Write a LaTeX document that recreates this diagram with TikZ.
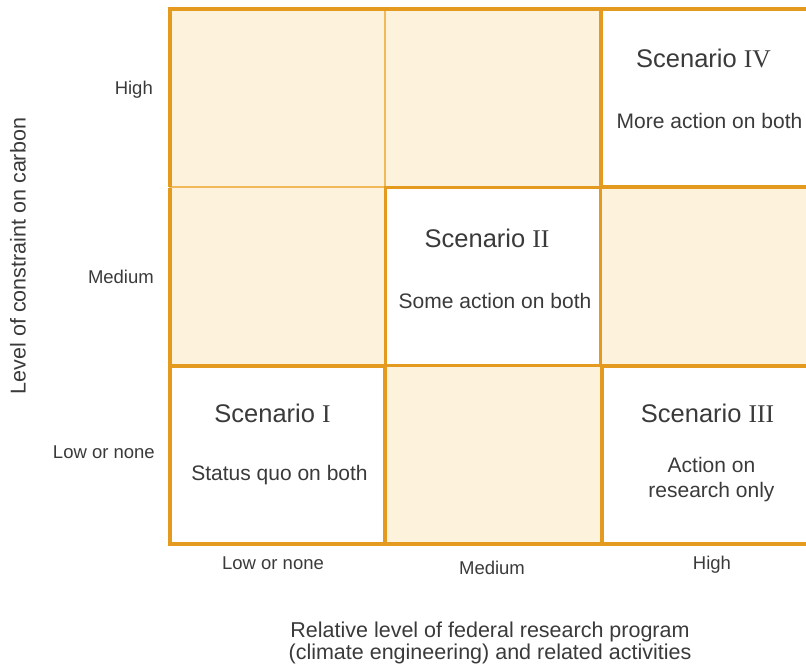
\documentclass[tikz,border=0pt]{standalone}
\usepackage{fontspec}
\setmainfont{Liberation Sans}
\newfontfamily\numfont{Liberation Serif}

\definecolor{frame}{HTML}{E39A1F}
\definecolor{thinframe}{HTML}{F2B95A}
\definecolor{cream}{HTML}{FDF2DC}
\definecolor{ink}{HTML}{3A3A3A}

\tikzstyle{cell} = [draw=thinframe, fill=cream, line width=1.5pt, minimum width=215pt, minimum height=178pt, inner sep=0, outer sep=0]
\tikzstyle{scen} = [cell, draw=frame, fill=white, line width=3.2pt]
\tikzstyle{scentitle} = [font=\fontsize{25.5}{28}\selectfont, text=ink, inner sep=0]
\tikzstyle{scentext} = [font=\fontsize{21}{25}\selectfont, text=ink, align=center, inner sep=0]
\tikzstyle{tick} = [font=\fontsize{18.5}{22}\selectfont, text=ink, inner sep=0]
\tikzstyle{axis} = [font=\fontsize{21.5}{22}\selectfont, text=ink, align=center, inner sep=0]

\begin{document}
\begin{tikzpicture}[x=1pt,y=-1pt]
  \useasboundingbox (0,0) rectangle (806,667);
  \clip (0,0) rectangle (806,667);

%Cells
	\node[cell] (c11) at (277.5,98) {};
	\node[cell] (c12) at (493,98) {};
	\node[cell] (c21) at (277.5,276.5) {};
	\node[cell] (c23) at (708.5,276.5) {};
	\node[cell] (c32) at (493,455) {};

	\draw[frame,line width=3.2pt] (c11.south west) -- (c11.north west) -- (c12.north east);
	\draw[frame,line width=3.2pt] (c21.north west) -- (c21.south west);
	\draw[frame,line width=3.2pt] (c32.south west) -- (c32.south east);

%Scenarios
	\node[scen] (s4) at (708.5,98) {};
	\node[scen] (s2) at (493,276.5) {};
	\node[scen] (s1) at (277.5,455) {};
	\node[scen] (s3) at (709.5,455) {};

	\node[scentitle] (t4) at ([xshift=-5pt,yshift=-49pt]s4.north) {Scenario {\numfont IV}};
	\node[scentext]  (d4) at ([xshift=1pt,yshift=-112pt]s4.north) {More action on both};

	\node[scentitle] (t2) at ([xshift=-6pt,yshift=-51pt]s2.north) {Scenario {\numfont II}};
	\node[scentext]  (d2) at ([xshift=2pt,yshift=-113pt]s2.north) {Some action on both};

	\node[scentitle] (t1) at ([xshift=-5pt,yshift=-47pt]s1.north) {Scenario {\numfont I}};
	\node[scentext]  (d1) at ([xshift=2pt,yshift=-109pt]s1.north) {Status quo on both};

	\node[scentitle] (t3) at ([xshift=-2pt,yshift=-47pt]s3.north) {Scenario {\numfont III}};
	\node[scentext]  (d3) at ([xshift=2pt,yshift=-114pt]s3.north) {Action on\\research only};

%Axes
	\node[tick,anchor=east] (yhigh) at (153,90) {High};
	\node[tick,anchor=east] (ymed)  at (154,277) {Medium};
	\node[tick,anchor=east] (ylow)  at (155,452) {Low or none};

	\node[tick] (xlow)  at (273,563) {Low or none};
	\node[tick] (xmed)  at (492,568) {Medium};
	\node[tick] (xhigh) at (712,565) {High};

	\node[axis,rotate=90] (ytitle) at (18,256) {Level of constraint on carbon};
	\node[axis] (xtitle) at (490,643) {Relative level of federal research program\\(climate engineering) and related activities};

\end{tikzpicture}
\end{document}
